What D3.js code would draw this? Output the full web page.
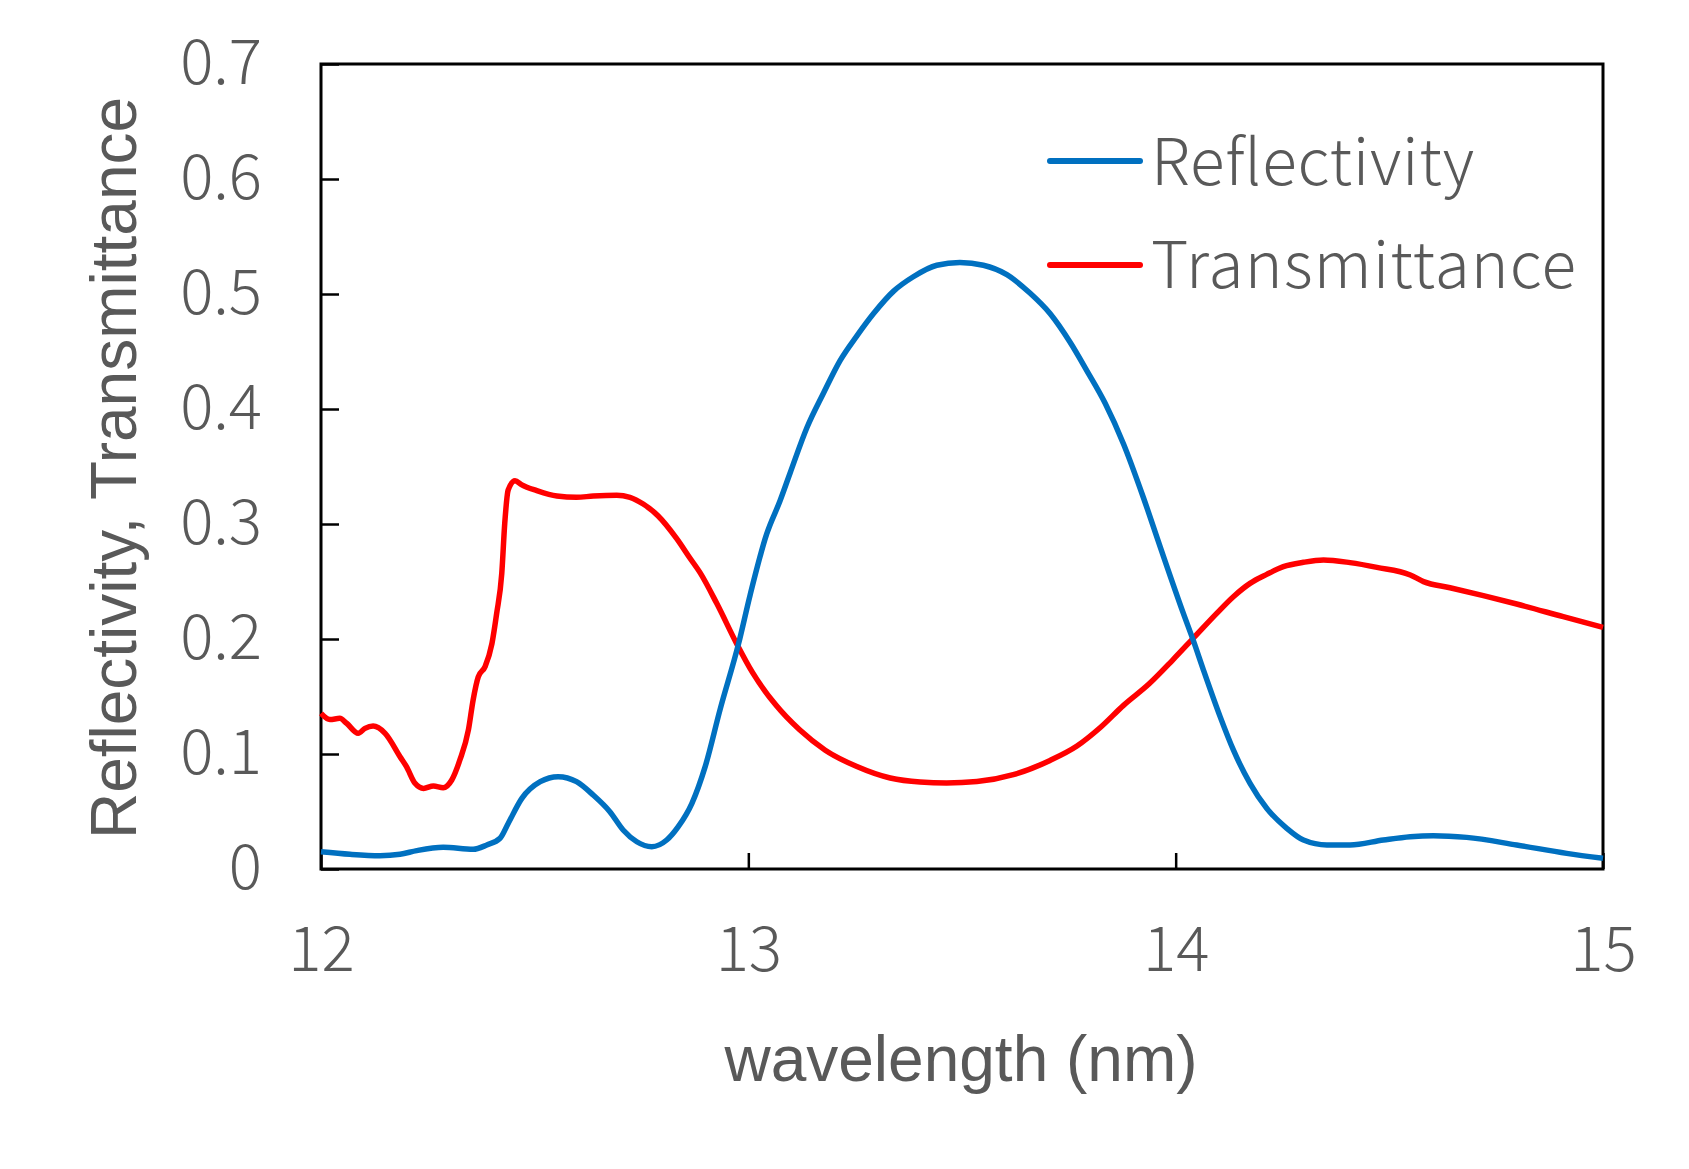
<!DOCTYPE html>
<html>
<head>
<meta charset="utf-8">
<script src="https://cdn.jsdelivr.net/npm/d3@7"></script>
<style>
  html, body { margin: 0; padding: 0; background: #fff; }
  svg { display: block; }
</style>
</head>
<body>
<svg id="chart" width="1689" height="1169"></svg>
<script>
// ---- Data ----
const reflWavelength = [12.0, 12.068, 12.138, 12.185, 12.224, 12.286, 12.356, 12.388, 12.419, 12.438, 12.47, 12.513, 12.555, 12.598, 12.637, 12.676, 12.707, 12.739, 12.774, 12.809, 12.836, 12.868, 12.899, 12.934, 12.977, 13.004, 13.043, 13.074, 13.098, 13.137, 13.176, 13.215, 13.254, 13.293, 13.34, 13.386, 13.441, 13.495, 13.55, 13.605, 13.659, 13.706, 13.753, 13.792, 13.835, 13.878, 13.924, 13.963, 14.018, 14.041, 14.065, 14.104, 14.135, 14.174, 14.213, 14.26, 14.299, 14.354, 14.408, 14.486, 14.549, 14.603, 14.681, 14.798, 14.915, 15.0];
const reflValues = [0.015, 0.0128, 0.0116, 0.0128, 0.016, 0.0189, 0.0171, 0.0209, 0.0267, 0.0396, 0.0614, 0.0759, 0.0803, 0.0759, 0.0643, 0.0498, 0.0339, 0.0237, 0.0194, 0.0252, 0.0368, 0.0571, 0.089, 0.1388, 0.1957, 0.238, 0.2914, 0.320, 0.3446, 0.3837, 0.4139, 0.4423, 0.4636, 0.483, 0.5025, 0.515, 0.525, 0.5274, 0.525, 0.5168, 0.5008, 0.483, 0.458, 0.4334, 0.405, 0.3696, 0.3235, 0.281, 0.2223, 0.199, 0.173, 0.1325, 0.1035, 0.0745, 0.0528, 0.0354, 0.0252, 0.0209, 0.0209, 0.0252, 0.0281, 0.029, 0.0275, 0.0209, 0.0136, 0.0093];

const transWavelength = [12.0, 12.021, 12.044, 12.06, 12.087, 12.103, 12.122, 12.15, 12.185, 12.20, 12.22, 12.24, 12.263, 12.286, 12.306, 12.325, 12.345, 12.356, 12.368, 12.384, 12.40, 12.411, 12.423, 12.43, 12.438, 12.454, 12.47, 12.505, 12.552, 12.598, 12.637, 12.692, 12.723, 12.754, 12.789, 12.832, 12.864, 12.887, 12.926, 12.973, 13.01, 13.065, 13.12, 13.18, 13.254, 13.332, 13.402, 13.464, 13.535, 13.62, 13.706, 13.769, 13.823, 13.878, 13.938, 13.993, 14.041, 14.096, 14.135, 14.174, 14.213, 14.252, 14.299, 14.346, 14.408, 14.471, 14.549, 14.58, 14.642, 14.72, 14.798, 14.907, 15.0];
const transValues = [0.1354, 0.130, 0.131, 0.1267, 0.118, 0.1223, 0.1243, 0.118, 0.0977, 0.089, 0.0745, 0.0701, 0.0722, 0.0707, 0.0774, 0.0948, 0.121, 0.147, 0.167, 0.176, 0.196, 0.222, 0.257, 0.3006, 0.3296, 0.3377, 0.334, 0.329, 0.3243, 0.3232, 0.3243, 0.325, 0.3232, 0.3174, 0.307, 0.2875, 0.270, 0.2577, 0.231, 0.1957, 0.1707, 0.1423, 0.121, 0.1033, 0.0891, 0.0791, 0.0756, 0.0748, 0.076, 0.082, 0.0944, 0.1069, 0.1228, 0.1423, 0.161, 0.1817, 0.2006, 0.2223, 0.2368, 0.2484, 0.2562, 0.2629, 0.2667, 0.2687, 0.2664, 0.2623, 0.2557, 0.2499, 0.2446, 0.2377, 0.2304, 0.2194, 0.2101];

const xTicks = [12, 13, 14, 15];
const xTickLabels = ["12", "13", "14", "15"];
const yTicks = [0, 0.1, 0.2, 0.3, 0.4, 0.5, 0.6, 0.7];
const yTickLabels = ["0", "0.1", "0.2", "0.3", "0.4", "0.5", "0.6", "0.7"];
const seriesNames = ["Reflectivity", "Transmittance"];
const seriesColors = ["#0070C0", "#FF0000"];
const xTitle = "wavelength (nm)";
const yTitle = "Reflectivity, Transmittance";

// ---- Layout ----
const plot = { left: 321, right: 1603, top: 64, bottom: 869 };
const tickFont = "'Noto Sans CJK JP', 'Noto Sans', sans-serif";
const titleFont = "'Liberation Sans', Arial, sans-serif";
const textGray = "#595959";

const svg = d3.select("#chart");

const x = d3.scaleLinear().domain([12, 15]).range([plot.left, plot.right]);
const y = d3.scaleLinear().domain([0, 0.7]).range([plot.bottom, plot.top]);

// Y axis
const yAxis = svg.append("g")
  .attr("transform", `translate(${plot.left},0)`)
  .call(d3.axisLeft(y).tickValues(yTicks).tickSize(-18).tickPadding(59)
    .tickFormat((d, i) => yTickLabels[i]));
yAxis.select(".domain").remove();
yAxis.selectAll(".tick line").attr("stroke", "#000").attr("stroke-width", 2.5);
yAxis.selectAll(".tick text")
  .attr("dy", 0).attr("y", 19)
  .attr("fill", textGray)
  .style("font-family", tickFont)
  .style("font-size", "62px")
  .style("font-weight", 300);

// X axis
const xAxis = svg.append("g")
  .attr("transform", `translate(0,${plot.bottom})`)
  .call(d3.axisBottom(x).tickValues(xTicks).tickSize(-16)
    .tickFormat((d, i) => xTickLabels[i]));
xAxis.select(".domain").remove();
xAxis.selectAll(".tick line").attr("stroke", "#000").attr("stroke-width", 2.5);
xAxis.selectAll(".tick text")
  .attr("dy", 0).attr("y", 102)
  .attr("fill", textGray)
  .style("font-family", tickFont)
  .style("font-size", "62px")
  .style("font-weight", 300);

// Frame
svg.append("rect")
  .attr("x", plot.left).attr("y", plot.top)
  .attr("width", plot.right - plot.left).attr("height", plot.bottom - plot.top)
  .attr("fill", "none").attr("stroke", "#000").attr("stroke-width", 3);

// Lines
const line = d3.line()
  .x(d => x(d[0]))
  .y(d => y(d[1]))
  .curve(d3.curveMonotoneX);

const reflData = reflWavelength.map((w, i) => [w, reflValues[i]]);
const transData = transWavelength.map((w, i) => [w, transValues[i]]);

[transData, reflData].forEach((data, k) => {
  const idx = k === 0 ? 1 : 0;
  svg.append("path")
    .datum(data)
    .attr("d", line)
    .attr("fill", "none")
    .attr("stroke", seriesColors[idx])
    .attr("stroke-width", 5.5)
    .attr("stroke-linejoin", "round");
});

// Legend
const legendRows = [161, 265];
const legendTextBase = [185, 288];
const legendTextWidth = [323, 425];
seriesNames.forEach((name, i) => {
  svg.append("line")
    .attr("x1", 1050).attr("x2", 1140)
    .attr("y1", legendRows[i]).attr("y2", legendRows[i])
    .attr("stroke", seriesColors[i])
    .attr("stroke-width", 6)
    .attr("stroke-linecap", "round");
  svg.append("text")
    .attr("x", 1151).attr("y", legendTextBase[i])
    .attr("fill", textGray)
    .attr("textLength", legendTextWidth[i])
    .attr("lengthAdjust", "spacing")
    .style("font-family", tickFont)
    .style("font-size", "64px")
    .style("font-weight", 300)
    .text(name);
});

// Axis titles
svg.append("text")
  .attr("x", 961).attr("y", 1081)
  .attr("text-anchor", "middle")
  .attr("fill", textGray)
  .style("font-family", titleFont)
  .style("font-size", "64px")
  .text(xTitle);

svg.append("text")
  .attr("transform", "translate(136,468) rotate(-90)")
  .attr("text-anchor", "middle")
  .attr("fill", textGray)
  .style("font-family", titleFont)
  .style("font-size", "64px")
  .text(yTitle);
</script>
</body>
</html>
